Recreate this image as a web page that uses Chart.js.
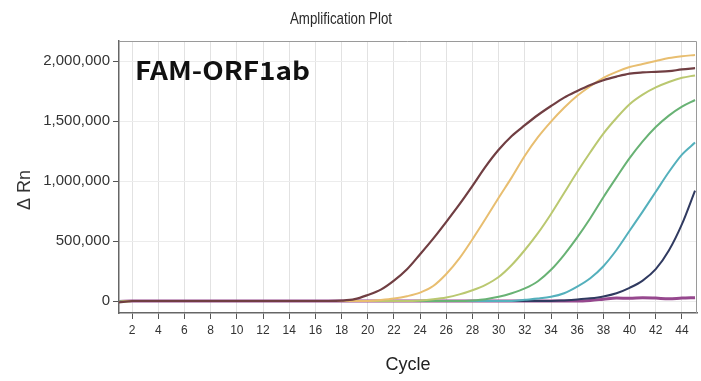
<!DOCTYPE html>
<html>
<head>
<meta charset="utf-8">
<script src="https://cdn.jsdelivr.net/npm/chart.js@4.4.1/dist/chart.umd.min.js"></script>
<style>
    html, body { margin: 0; padding: 0; background: #fff; }
    #wrap { width: 701px; height: 381px; }
</style>
</head>
<body>
<div id="wrap"><canvas id="ampChart" width="701" height="381"></canvas></div>
<script>
// Cycle numbers and the ΔRn reading of each well per cycle
const cycles = [1, 2, 3, 4, 5, 6, 7, 8, 9, 10, 11, 12, 13, 14, 15, 16, 17, 18, 19, 20, 21, 22, 23,
    24, 25, 26, 27, 28, 29, 30, 31, 32, 33, 34, 35, 36, 37, 38, 39, 40, 41, 42, 43, 44, 45];

const wellA = [-12000, 0, 0, 0, 0, 0, 0, 0, 0, 0, 0, 0, 0, 0, 0, 0, 0, 3000, 15000, 50000, 95000,
    170000, 265000, 390000, 520000, 660000, 805000, 960000, 1120000, 1260000, 1375000, 1465000,
    1550000, 1625000, 1695000, 1750000, 1800000, 1840000, 1870000, 1895000, 1905000, 1910000,
    1915000, 1930000, 1940000];
const wellB = [-8000, 0, 0, 0, 0, 0, 0, 0, 0, 0, 0, 0, 0, 0, 0, 0, 0, 0, 0, 0, 8000, 20000, 40000,
    70000, 125000, 225000, 355000, 515000, 685000, 860000, 1030000, 1210000, 1365000, 1495000,
    1610000, 1710000, 1790000, 1860000, 1910000, 1950000, 1975000, 2000000, 2025000, 2040000, 2050000];
const wellC = [-6000, 0, 0, 0, 0, 0, 0, 0, 0, 0, 0, 0, 0, 0, 0, 0, 0, 0, 0, 0, 0, 0, 0, 5000,
    15000, 30000, 55000, 90000, 135000, 200000, 300000, 425000, 565000, 725000, 900000, 1075000,
    1240000, 1395000, 1525000, 1640000, 1720000, 1780000, 1825000, 1860000, 1880000];
const wellD = [-6000, 0, 0, 0, 0, 0, 0, 0, 0, 0, 0, 0, 0, 0, 0, 0, 0, 0, 0, 0, 0, 0, 0, 0, 0, 0,
    0, 5000, 15000, 35000, 65000, 105000, 165000, 260000, 385000, 530000, 690000, 865000, 1030000,
    1190000, 1330000, 1450000, 1545000, 1620000, 1675000];
const wellE = [-5000, 0, 0, 0, 0, 0, 0, 0, 0, 0, 0, 0, 0, 0, 0, 0, 0, 0, 0, 0, 0, 0, 0, 0, 0, 0,
    0, 0, 0, 0, 0, 10000, 20000, 35000, 65000, 120000, 190000, 290000, 425000, 585000, 745000,
    910000, 1075000, 1220000, 1320000];
const wellF = [-5000, 0, 0, 0, 0, 0, 0, 0, 0, 0, 0, 0, 0, 0, 0, 0, 0, 0, 0, 0, 0, 0, 0, 0, 0, 0,
    0, 0, 0, 0, 0, 0, 0, 0, 5000, 12000, 22000, 38000, 65000, 110000, 170000, 265000, 420000,
    640000, 920000];
const ntc = [-4000, 0, 0, 0, 0, 0, 0, 0, 0, 0, 0, 0, 0, 0, 0, 0, 0, 0, 0, 0, 0, 0, 0, 0, 0, 0, 0,
    0, 0, 0, 0, 0, 0, 0, 0, 0, 5000, 15000, 25000, 22000, 28000, 24000, 18000, 25000, 28000];

const xTicks = [2, 4, 6, 8, 10, 12, 14, 16, 18, 20, 22, 24, 26, 28, 30, 32, 34, 36, 38, 40, 42, 44];
const yTicks = [0, 500000, 1000000, 1500000, 2000000];

const series = [
    { values: wellA, color: 'rgb(112, 62, 66)', width: 2.2 },
    { values: wellB, color: 'rgb(232, 190, 112)', width: 2 },
    { values: wellC, color: 'rgb(186, 200, 112)', width: 2 },
    { values: wellD, color: 'rgb(104, 178, 116)', width: 2 },
    { values: wellE, color: 'rgb(84, 176, 188)', width: 2 },
    { values: wellF, color: 'rgb(48, 58, 96)', width: 2 },
    { values: ntc, color: 'rgb(150, 72, 142)', width: 3 }
];

const sans = "'Liberation Sans', Arial, sans-serif";

// draws text squeezed or stretched horizontally to a given width
function fitText(ctx, text, x, y, width) {
    const w = ctx.measureText(text).width;
    ctx.save();
    ctx.translate(x, y);
    ctx.scale(width / w, 1);
    ctx.fillText(text, 0, 0);
    ctx.restore();
}

// Title, target label, y title and the grey frame round the plot
const decorations = {
    id: 'decorations',
    afterDraw(chart) {
        const { ctx, chartArea: a } = chart;
        ctx.save();
        ctx.strokeStyle = '#9a9a9a';
        ctx.lineWidth = 1;
        ctx.beginPath();
        ctx.moveTo(a.left, a.top + 0.5);
        ctx.lineTo(a.right - 0.5, a.top + 0.5);
        ctx.lineTo(a.right - 0.5, a.bottom);
        ctx.stroke();

        ctx.fillStyle = '#2a2a2a';
        ctx.textAlign = 'center';
        ctx.textBaseline = 'middle';
        ctx.font = '17px ' + sans;
        fitText(ctx, 'Amplification Plot', 341, 19, 102);

        ctx.save();
        ctx.translate(25, 190);
        ctx.rotate(-Math.PI / 2);
        ctx.fillStyle = '#333';
        ctx.font = '18px ' + sans;
        ctx.fillText('Δ Rn', 0, 0);
        ctx.restore();

        ctx.fillStyle = '#111';
        ctx.textAlign = 'left';
        ctx.textBaseline = 'alphabetic';
        ctx.font = "bold 25px 'Noto Sans CJK SC', 'Noto Sans', sans-serif";
        fitText(ctx, 'FAM-ORF1ab', 135, 80, 175);
        ctx.restore();
    }
};

new Chart(document.getElementById('ampChart'), {
    type: 'line',
    data: {
        datasets: series.map(s => ({
            data: cycles.map((c, i) => ({ x: c, y: s.values[i] })),
            borderColor: s.color,
            borderWidth: s.width,
            pointRadius: 0,
            fill: false,
            cubicInterpolationMode: 'monotone'
        }))
    },
    options: {
        responsive: false,
        animation: false,
        layout: { padding: { top: 41, right: 4, left: 0, bottom: 0 } },
        plugins: {
            legend: { display: false },
            tooltip: { enabled: false }
        },
        scales: {
            x: {
                type: 'linear',
                min: 1,
                max: 45.15,
                afterBuildTicks: scale => { scale.ticks = xTicks.map(v => ({ value: v })); },
                afterFit: scale => { scale.height = 68; },
                grid: { color: '#e2e2e2', tickColor: '#555', tickLength: 6 },
                border: { color: '#666', width: 1.5 },
                ticks: {
                    color: '#333',
                    font: { family: sans, size: 12 },
                    padding: 4,
                    maxRotation: 0,
                    autoSkip: false
                },
                title: {
                    display: true,
                    text: 'Cycle',
                    color: '#222',
                    font: { family: sans, size: 18 },
                    padding: { top: 0, bottom: 5 }
                }
            },
            y: {
                min: -100000,
                max: 2166667,
                afterBuildTicks: scale => { scale.ticks = yTicks.map(v => ({ value: v })); },
                afterFit: scale => { scale.width = 119; },
                grid: { color: '#ececec', tickColor: '#555', tickLength: 6 },
                border: { color: '#666', width: 1.5 },
                ticks: {
                    color: '#333',
                    font: { family: sans, size: 15 },
                    padding: 3,
                    callback: v => v.toLocaleString('en-US')
                }
            }
        }
    },
    plugins: [decorations]
});
</script>
</body>
</html>
